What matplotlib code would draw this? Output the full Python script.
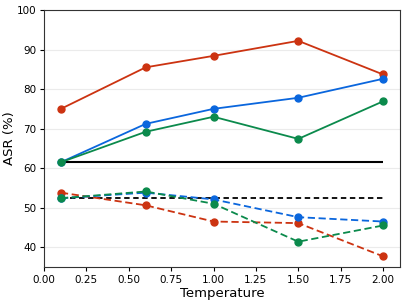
import matplotlib
matplotlib.use("Agg")
import matplotlib.pyplot as plt

temps = [0.1, 0.6, 1.0, 1.5, 2.0]

red_solid = [75.0, 85.5, 88.4, 92.2, 83.7]
blue_solid = [61.5, 71.2, 75.0, 77.8, 82.6]
green_solid = [61.5, 69.2, 73.0, 67.4, 76.9]
red_dashed = [53.8, 50.6, 46.5, 46.1, 37.7]
blue_dashed = [52.4, 53.8, 52.1, 47.6, 46.5]
green_dashed = [52.4, 54.1, 51.0, 41.4, 45.5]

baseline_solid = 61.5
baseline_dashed = 52.4

RED = "#cc3311"
BLUE = "#0a66dd"
GREEN = "#0b8a4c"

fig = plt.figure(figsize=(4.07, 3.03), dpi=100)
ax = fig.add_axes([44 / 407, 36 / 303, 356 / 407, 257 / 303])

ax.hlines(baseline_solid, temps[0], temps[-1], colors="black", linewidth=1.5, zorder=2)
ax.hlines(baseline_dashed, temps[0], temps[-1], colors="black", linewidth=1.3,
          linestyles=(0, (3, 2)), zorder=2)

for ys, c in [(red_solid, RED), (blue_solid, BLUE), (green_solid, GREEN)]:
    ax.plot(temps, ys, color=c, marker="o", markersize=5, linewidth=1.3, zorder=3)
for ys, c in [(red_dashed, RED), (blue_dashed, BLUE), (green_dashed, GREEN)]:
    ax.plot(temps, ys, color=c, marker="o", markersize=5, linewidth=1.3,
            linestyle=(0, (4, 2)), zorder=3)

ax.set_xlim(0, 2.1)
ax.set_ylim(35, 100)
ax.set_yticks([40, 50, 60, 70, 80, 90, 100])
ax.set_xticks([0.0, 0.25, 0.5, 0.75, 1.0, 1.25, 1.5, 1.75, 2.0])
ax.grid(axis="y", color="#ebebeb", linewidth=0.8, zorder=0)
ax.set_axisbelow(True)
ax.tick_params(labelsize=7.5, length=3, pad=2.5)
for s in ax.spines.values():
    s.set_color("#333333")
ax.set_xlabel("Temperature", fontsize=9.5, labelpad=2)
ax.set_ylabel("ASR (%)", fontsize=9.5)
ax.yaxis.set_label_coords(-0.08, 0.5)

fig.savefig("out.png", dpi=100)
